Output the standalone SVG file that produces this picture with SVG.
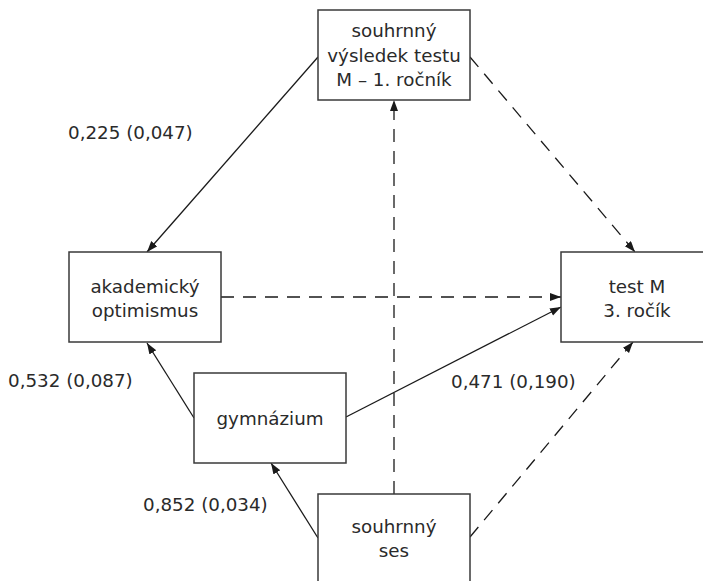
<svg xmlns="http://www.w3.org/2000/svg" width="703" height="581" viewBox="0 0 703 581">
  <defs>
    <marker id="arr" markerUnits="userSpaceOnUse" markerWidth="12" markerHeight="9" refX="11" refY="4" orient="auto">
      <path d="M0,0 L11,4 L0,8 Z" fill="#1a1a1a"/>
    </marker>
    <style>
      .box { fill: #ffffff; stroke: #3a3a3a; stroke-width: 1.5; }
      .t { font-family: "DejaVu Sans", "Liberation Sans", sans-serif; font-size: 18.3px; fill: #2a2a2a; text-anchor: middle; }
      .lbl { font-family: "DejaVu Sans", "Liberation Sans", sans-serif; font-size: 18.3px; fill: #2a2a2a; }
      .solid { stroke: #1a1a1a; stroke-width: 1.3; fill: none; }
      .dash { stroke: #1a1a1a; stroke-width: 1.3; fill: none; stroke-dasharray: 13 9; }
    </style>
  </defs>
  <rect width="703" height="581" fill="#ffffff"/>

  <g id="connectors">
    <line class="solid" x1="318" y1="57" x2="147" y2="252" marker-end="url(#arr)"/>
    <line class="dash" x1="470" y1="57" x2="635" y2="252" marker-end="url(#arr)"/>
    <line class="dash" x1="221" y1="297" x2="561" y2="297" marker-end="url(#arr)"/>
    <line class="solid" x1="346" y1="417" x2="561" y2="307" marker-end="url(#arr)"/>
    <line class="solid" x1="194" y1="418" x2="147" y2="343" marker-end="url(#arr)"/>
    <line class="dash" x1="394" y1="494" x2="394" y2="100" marker-end="url(#arr)"/>
    <line class="solid" x1="318" y1="538" x2="271" y2="463" marker-end="url(#arr)"/>
    <line class="dash" x1="470" y1="537" x2="633" y2="342" marker-end="url(#arr)"/>
  </g>

  <g id="labels">
    <text class="lbl" x="68" y="139">0,225 (0,047)</text>
    <text class="lbl" x="8" y="387">0,532 (0,087)</text>
    <text class="lbl" x="451" y="388">0,471 (0,190)</text>
    <text class="lbl" x="143" y="511">0,852 (0,034)</text>
  </g>

  <g id="node-vysledek1">
    <rect class="box" x="318" y="10" width="152" height="90"/>
    <text class="t" x="394" y="37">souhrnný</text>
    <text class="t" x="394" y="62">výsledek testu</text>
    <text class="t" x="394" y="86">M – 1. ročník</text>
  </g>

  <g id="node-optimismus">
    <rect class="box" x="69" y="252" width="152" height="90"/>
    <text class="t" x="145" y="293">akademický</text>
    <text class="t" x="145" y="317">optimismus</text>
  </g>

  <g id="node-testM3">
    <rect class="box" x="561" y="252" width="152" height="90"/>
    <text class="t" x="637" y="293">test M</text>
    <text class="t" x="637" y="317">3. ročík</text>
  </g>

  <g id="node-gymnazium">
    <rect class="box" x="194" y="373" width="152" height="90"/>
    <text class="t" x="270" y="425">gymnázium</text>
  </g>

  <g id="node-ses">
    <rect class="box" x="318" y="494" width="152" height="92"/>
    <text class="t" x="394" y="533">souhrnný</text>
    <text class="t" x="394" y="557">ses</text>
  </g>
</svg>
